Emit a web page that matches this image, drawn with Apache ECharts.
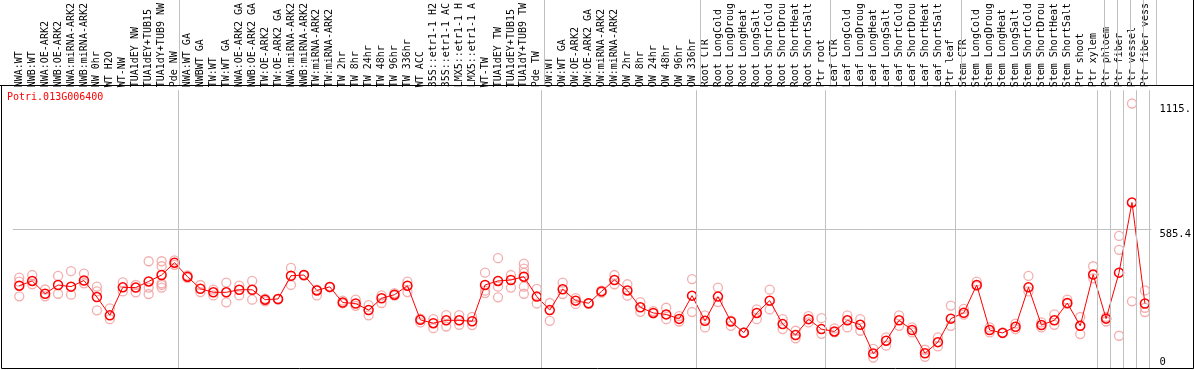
<!DOCTYPE html>
<html>
<head>
<meta charset="utf-8">
<script src="https://cdn.jsdelivr.net/npm/echarts@6/dist/echarts.min.js"></script>
<style>
  html, body { margin: 0; padding: 0; background: #fff; }
  #chart { width: 1194px; height: 370px; }
</style>
</head>
<body>
<div id="chart"></div>
<script>
// sample names (as printed, cut to 14 chars)
var categories = [
  'NWA:WT', 'NWB:WT', 'NWA:OE-ARK2', 'NWB:OE-ARK2', 'NWA:miRNA-ARK2', 'NWB:miRNA-ARK2',
  'NW 0hr', 'WT H2O', 'WT-NW', 'TUA1dEY NW', 'TUA1dEY+TUB15', 'TUA1dY+TUB9 NW', 'Pde NW',
  'NWA:WT GA', 'NWBWT GA', 'TW:WT', 'TW:WT GA', 'NWA:OE-ARK2 GA', 'NWB:OE-ARK2 GA',
  'TW:OE-ARK2', 'TW:OE-ARK2 GA', 'NWA:miRNA-ARK2', 'NWB:miRNA-ARK2', 'TW:miRNA-ARK2',
  'TW:miRNA-ARK2', 'TW 2hr', 'TW 8hr', 'TW 24hr', 'TW 48hr', 'TW 96hr', 'TW 336hr',
  'WT ACC', '35S::etr1-1 H2', '35S::etr1-1 AC', 'LMX5::etr1-1 H', 'LMX5::etr1-1 A',
  'WT-TW', 'TUA1dEY TW', 'TUA1dEY+TUB15', 'TUA1dY+TUB9 TW', 'Pde TW',
  'OW:WT', 'OW:WT GA', 'OW:OE-ARK2', 'OW:OE-ARK2 GA', 'OW:miRNA-ARK2', 'OW:miRNA-ARK2',
  'OW 2hr', 'OW 8hr', 'OW 24hr', 'OW 48hr', 'OW 96hr', 'OW 336hr',
  'Root CTR', 'Root LongCold', 'Root LongDroug', 'Root LongHeat', 'Root LongSalt',
  'Root ShortCold', 'Root ShortDrou', 'Root ShortHeat', 'Root ShortSalt', 'Ptr root',
  'Leaf CTR', 'Leaf LongCold', 'Leaf LongDroug', 'Leaf LongHeat', 'Leaf LongSalt',
  'Leaf ShortCold', 'Leaf ShortDrou', 'Leaf ShortHeat', 'Leaf ShortSalt', 'Ptr leaf',
  'Stem CTR', 'Stem LongCold', 'Stem LongDroug', 'Stem LongHeat', 'Stem LongSalt',
  'Stem ShortCold', 'Stem ShortDrou', 'Stem ShortHeat', 'Stem ShortSalt', 'Ptr shoot',
  'Ptr xylem', 'Ptr phloem', 'Ptr fiber', 'Ptr vessel', 'Ptr fiber vess'
];

// mean expression per sample
var means = [
  347, 367, 313, 350, 343, 369, 299, 222, 340, 339, 365, 392, 444,
  385, 334, 319, 319, 330, 330, 288, 291, 389, 392, 327, 342, 276, 272, 244,
  294, 309, 347, 203, 189, 201, 201, 197, 350, 367, 371, 385, 301,
  244, 332, 284, 273, 323, 371, 327, 256, 232, 226, 207, 305,
  199, 301, 196, 149, 232, 284, 185, 139, 206, 164,
  154, 201, 182, 61, 115, 201, 160, 62, 109, 208,
  233, 350, 160, 148, 174, 340, 181, 201, 274, 178, 394,
  208, 402, 698, 272
];

// individual replicates per sample
var replicates = [
  [381, 364, 302], [392, 353], [331, 302], [388, 313], [408, 309], [398, 357],
  [343, 323, 243], [251, 206], [361, 323], [350, 319], [450, 339, 312],
  [450, 429, 357, 350, 339], [454, 435],
  [380, 390], [350, 320], [330, 306], [360, 277], [347, 306], [367, 288],
  [281, 292], [291, 288], [422, 350], [392, 390], [306, 330], [342, 340],
  [284, 272], [288, 262], [265, 222], [306, 274], [316, 305], [364, 320],
  [192, 208], [206, 168], [223, 175], [223, 182], [215, 181],
  [402, 326, 316], [463, 343, 298], [392, 339], [440, 419, 401, 343, 313], [334, 272],
  [274, 199], [360, 312], [295, 270], [273, 270], [326, 318], [392, 353], [353, 305],
  [278, 237], [240, 230], [254, 206], [219, 196], [375, 236],
  [222, 171], [339, 278], [178, 200], [149, 150], [247, 206], [330, 247],
  [206, 164], [157, 125], [219, 192], [210, 144],
  [167, 150], [222, 171], [206, 157], [81, 44], [129, 94], [222, 178],
  [171, 150], [77, 47], [129, 91], [263, 178],
  [249, 225], [364, 345], [171, 150], [148, 150], [187, 164], [388, 323],
  [192, 171], [226, 182], [288, 270], [215, 143], [429, 378],
  [196, 215], [557, 498, 136], [281, 1115], [327, 254, 236]
];

// group boundaries (index of first sample in each group)
var groupBreaks = [0, 13, 41, 53, 63, 73, 84, 85, 86, 87, 88];

var yTickValues = [585.4, 1115];
var yTickLabels = ['585.4', '1115.'];
var geneName = 'Potri.013G006400';

var repPoints = [];
replicates.forEach(function(list, i) {
  list.forEach(function(v) { repPoints.push([i, v]); });
});

var mono = 'DejaVu Sans Mono';
var sepLine = {
  silent: true,
  symbol: ['none', 'none'],
  label: { show: false },
  lineStyle: { color: '#c0c0c0', type: 'solid', width: 1 },
  data: groupBreaks.map(function(b) { return { xAxis: b - 0.18 }; })
};

var myChart = echarts.init(document.getElementById('chart'));

var option = {
  animation: false,
  backgroundColor: '#fff',
  title: {
    text: geneName,
    left: 7,
    top: 92,
    padding: 0,
    textStyle: { color: '#ff0000', fontFamily: mono, fontSize: 10, fontWeight: 'normal' }
  },
  grid: [
    { left: 12.8, right: 35.4, top: 85, bottom: 2 },
    { left: 12.8, right: 35.4, top: 0, height: 85 }
  ],
  xAxis: [
    {
      type: 'category',
      gridIndex: 0,
      position: 'top',
      data: categories,
      boundaryGap: true,
      axisLine: { show: false },
      axisTick: { show: false },
      splitLine: { show: false },
      axisLabel: {
        interval: 0,
        rotate: 90,
        margin: 3,
        padding: [9, 0, 0, 0],
        color: '#000',
        fontFamily: mono,
        fontSize: 10,
        hideOverlap: false
      }
    },
    { type: 'value', gridIndex: 0, min: 0, max: 88, show: false },
    { type: 'value', gridIndex: 1, min: 0, max: 88, show: false }
  ],
  yAxis: [
    {
      type: 'value',
      gridIndex: 0,
      position: 'right',
      min: 0,
      max: 1170.8,
      interval: 585.4,
      axisLine: { show: false },
      axisTick: { show: false },
      splitLine: {
        show: true,
        showMinLine: false,
        showMaxLine: false,
        lineStyle: { color: '#c0c0c0', width: 1 }
      },
      axisLabel: {
        customValues: yTickValues,
        formatter: function(v) {
          var k = yTickValues.indexOf(v);
          return k >= 0 ? yTickLabels[k] : '';
        },
        margin: 8,
        verticalAlign: 'top',
        color: '#000',
        fontFamily: mono,
        fontSize: 10.5
      }
    },
    {
      type: 'value',
      gridIndex: 0,
      position: 'right',
      min: 0,
      max: 1170.8,
      axisLine: { show: false },
      axisTick: { show: false },
      splitLine: { show: false },
      axisLabel: {
        customValues: [0],
        formatter: function(v) { return String(v); },
        margin: 8,
        verticalAlign: 'bottom',
        color: '#000',
        fontFamily: mono,
        fontSize: 10.5
      }
    },
    { type: 'value', gridIndex: 1, min: 0, max: 1, show: false }
  ],
  series: [
    {
      type: 'line',
      xAxisIndex: 1,
      yAxisIndex: 0,
      data: [],
      markLine: sepLine
    },
    {
      type: 'line',
      xAxisIndex: 2,
      yAxisIndex: 2,
      data: [],
      markLine: sepLine
    },
    {
      type: 'scatter',
      xAxisIndex: 0,
      yAxisIndex: 0,
      data: repPoints,
      symbol: 'circle',
      symbolSize: 9,
      itemStyle: { color: 'rgba(0,0,0,0)', borderColor: '#f09a9a', borderWidth: 1.3 }
    },
    {
      type: 'line',
      xAxisIndex: 0,
      yAxisIndex: 0,
      data: means,
      symbol: 'circle',
      symbolSize: 9,
      lineStyle: { color: '#ff0000', width: 1 },
      itemStyle: { color: 'rgba(0,0,0,0)', borderColor: '#ff0000', borderWidth: 1.5 }
    }
  ],
  graphic: [
    {
      type: 'rect',
      silent: true,
      shape: { x: 1.5, y: 85.5, width: 1192, height: 283 },
      style: { fill: null, stroke: '#000', lineWidth: 1 },
      z: 100
    },
    {
      type: 'line',
      silent: true,
      shape: { x1: 1193.5, y1: 0, x2: 1193.5, y2: 86 },
      style: { stroke: '#000', lineWidth: 1 },
      z: 100
    },
    {
      type: 'line',
      silent: true,
      shape: { x1: 0, y1: 85.5, x2: 2, y2: 85.5 },
      style: { stroke: '#000', lineWidth: 1 },
      z: 100
    }
  ]
};

myChart.setOption(option);

window.onresize = function() {
  myChart.resize();
};
</script>
</body>
</html>
